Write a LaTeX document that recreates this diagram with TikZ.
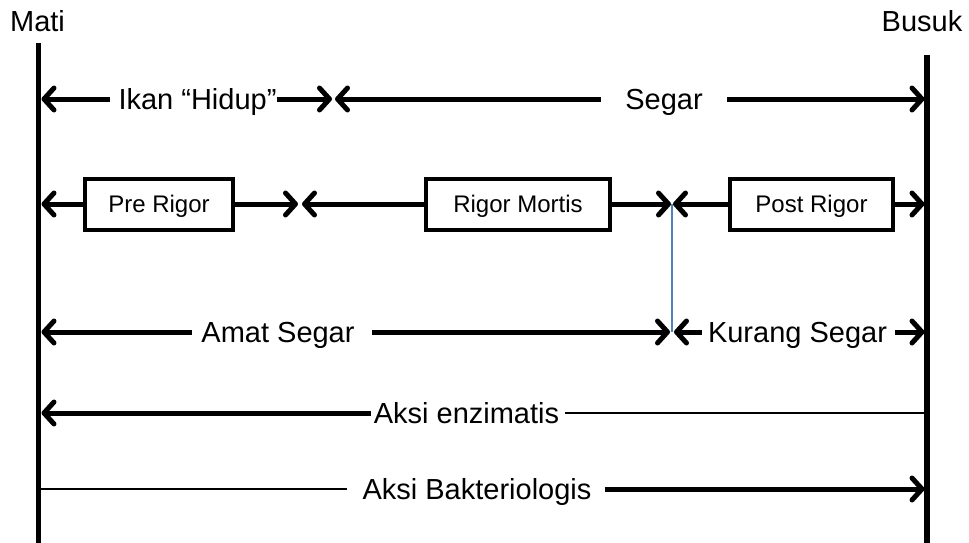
\documentclass[tikz,border=0pt]{standalone}
\usepackage{fontspec}
\setmainfont{Liberation Sans}
\usetikzlibrary{arrows.meta}
\definecolor{blueln}{HTML}{4F81BD}
\begin{document}
\begin{tikzpicture}[x=1pt,y=-1pt,
  lab/.style={font=\fontsize{29}{29}\selectfont, inner sep=0pt, text height=21pt, text depth=0pt},
  stagebox/.style={draw, line width=4pt, font=\fontsize{24}{24}\selectfont, inner sep=0pt,
                   text height=17pt, text depth=0pt, minimum height=51pt},
  arr/.style={line width=5pt, -{Straight Barb[length=10pt,width=22pt,round]}},
  vline/.style={line width=5.5pt},
  thinline/.style={line width=1.5pt},
  bl/.style={line width=1.2pt, draw=blueln}]
\useasboundingbox (0,0) rectangle (969,543);

% vertical axes
\coordinate (Ltop) at (38.5,43);
\coordinate (Lbot) at (38.5,543);
\coordinate (Rtop) at (927,55);
\coordinate (Rbot) at (927,543);
\draw[vline] (Ltop) -- (Lbot);
\draw[vline] (Rtop) -- (Rbot);

\node[lab, anchor=base] (mati) at (37.5,32) {Mati};
\node[lab, anchor=base] (busuk) at (922,32) {Busuk};

% tip coordinates
\coordinate (L1) at (41.5,99);   \coordinate (R1) at (924.5,99);
\coordinate (L2) at (41.5,204);  \coordinate (R2) at (924.5,204);
\coordinate (L3) at (41.5,332);  \coordinate (R3) at (924.5,332);
\coordinate (L4) at (41.5,413);  \coordinate (R4) at (927,413);
\coordinate (L5) at (38.5,489);  \coordinate (R5) at (924.5,489);

% blue divider
\coordinate (bt) at (672,204);
\coordinate (bb) at (672,332);
\draw[bl] (bt) -- (bb);

% row 1
\node[lab] (ikan) at (197.5,99) {Ikan “Hidup”};
\node[lab] (segar) at (664,99) {Segar};
\coordinate (a1) at (332,99);
\coordinate (a2) at (335,99);
\draw[arr] ([xshift=-8pt]ikan.west) -- (L1);
\draw[arr] (ikan.east) -- (a1);
\draw[arr] ([xshift=-24pt]segar.west) -- (a2);
\draw[arr] ([xshift=24pt]segar.east) -- (R1);

% row 2
\node[stagebox, minimum width=148pt] (pre) at (159,204) {Pre Rigor};
\node[stagebox, minimum width=184pt] (rig) at (518,204) {Rigor Mortis};
\node[stagebox, minimum width=163pt] (post) at (811.5,204) {Post Rigor};
\coordinate (m1) at (298,204);
\coordinate (m2) at (302,204);
\coordinate (m3) at (671,204);
\coordinate (m4) at (673,204);
\draw[arr] (pre.west) -- (L2);
\draw[arr] (pre.east) -- (m1);
\draw[arr] (rig.west) -- (m2);
\draw[arr] (rig.east) -- (m3);
\draw[arr] (post.west) -- (m4);
\draw[arr] (post.east) -- (R2);

% row 3
\node[lab] (amat) at (278,332) {Amat Segar};
\node[lab] (kurang) at (797.5,332) {Kurang Segar};
\coordinate (c1) at (670,332);
\coordinate (c2) at (674,332);
\draw[arr] ([xshift=-9pt]amat.west) -- (L3);
\draw[arr] ([xshift=17pt]amat.east) -- (c1);
\draw[arr] ([xshift=-6pt]kurang.west) -- (c2);
\draw[arr] ([xshift=8pt]kurang.east) -- (R3);

% row 4
\node[lab] (enz) at (466.5,413) {Aksi enzimatis};
\draw[arr] ([xshift=-3pt]enz.west) -- (L4);
\draw[thinline] ([xshift=6pt]enz.east) -- (R4);

% row 5
\node[lab] (bakt) at (477,489) {Aksi Bakteriologis};
\draw[thinline] (L5) -- ([xshift=-15pt]bakt.west);
\draw[arr] ([xshift=13pt]bakt.east) -- (R5);
\end{tikzpicture}
\end{document}
